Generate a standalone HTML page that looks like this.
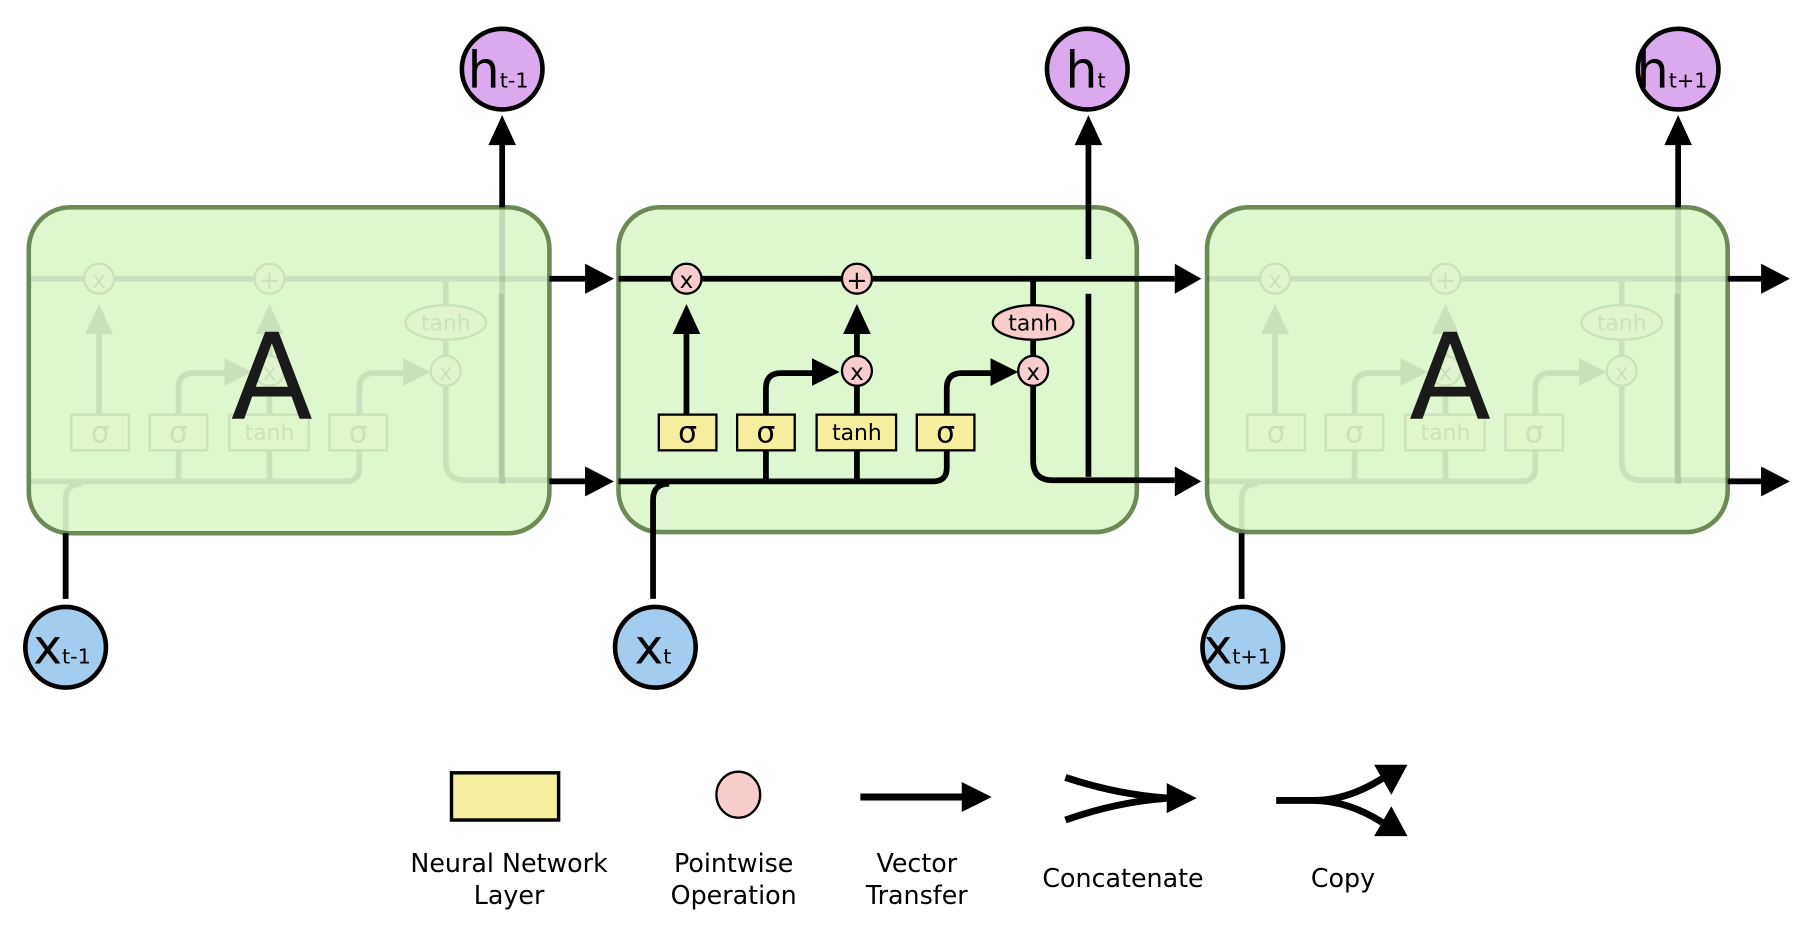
<!DOCTYPE html>
<html><head><meta charset="utf-8"><style>
html,body{margin:0;padding:0;background:#fff;}
svg{display:block;}
text{font-family:"DejaVu Sans","Liberation Sans",sans-serif;}
</style></head><body>
<svg width="1806" height="926" viewBox="0 0 1568 804" preserveAspectRatio="none" xmlns="http://www.w3.org/2000/svg">
<defs>
<g id="cell" fill="none" stroke="#000" stroke-width="5">
  <path d="M537 242 H1020"/>
  <polygon points="1020,229 1043,242 1020,255" fill="#000" stroke="none"/>
  <path d="M537 418 H810 Q822 418 822 406 V391"/>
  <path d="M567 520 V434 Q567 420 581 420"/>
  <path d="M596 360 V290"/>
  <polygon points="584,290 596,264 608,290" fill="#000" stroke="none"/>
  <path d="M665 418 V391 M665 360 V337 Q665 324 678 324 H705"/>
  <polygon points="705,311 729,323 705,335" fill="#000" stroke="none"/>
  <path d="M744 418 V391 M744 360 V335 M744 309 V290"/>
  <polygon points="732,290 744,264 756,290" fill="#000" stroke="none"/>
  <path d="M822 360 V337 Q822 324 835 324 H860"/>
  <polygon points="860,311 884,323 860,335" fill="#000" stroke="none"/>
  <path d="M897 242 V265 M897 295 V309 M897 335 V400 Q897 417 914 417 H1020"/>
  <polygon points="1020,405 1043,418 1020,431" fill="#000" stroke="none"/>
  <path d="M945 255 V414"/>
  <g stroke-width="2">
    <circle cx="596" cy="242" r="13" fill="#f8cdcc"/>
    <circle cx="744" cy="242" r="13" fill="#f8cdcc"/>
    <circle cx="744" cy="322" r="13" fill="#f8cdcc"/>
    <circle cx="897" cy="322" r="13" fill="#f8cdcc"/>
    <ellipse cx="897" cy="280" rx="35" ry="15" fill="#f8cdcc"/>
    <rect x="572" y="360" width="50" height="31" fill="#f5ee9e"/>
    <rect x="640" y="360" width="50" height="31" fill="#f5ee9e"/>
    <rect x="709" y="360" width="69" height="31" fill="#f5ee9e"/>
    <rect x="796" y="360" width="50" height="31" fill="#f5ee9e"/>
  </g>
  <g fill="#000" stroke="none" text-anchor="middle">
    <text x="596" y="250" font-size="20">x</text>
    <text x="744" y="251" font-size="22">+</text>
    <text x="744" y="330" font-size="20">x</text>
    <text x="897" y="330" font-size="20">x</text>
    <text x="897" y="287" font-size="19">tanh</text>
    <text x="597" y="384" font-size="26">σ</text>
    <text x="665" y="384" font-size="26">σ</text>
    <text x="744" y="382" font-size="19">tanh</text>
    <text x="821" y="384" font-size="26">σ</text>
  </g>
</g>
</defs>

<rect x="25" y="180" width="452" height="283" rx="36" fill="#dff7cf" stroke="#6d8a56" stroke-width="4"/>
<rect x="537" y="180" width="450" height="282" rx="36" fill="#dff7cf" stroke="#6d8a56" stroke-width="4"/>
<rect x="1048" y="180" width="452" height="282" rx="36" fill="#dff7cf" stroke="#6d8a56" stroke-width="4"/>

<g opacity="0.09">
  <use href="#cell" transform="translate(-510 0)"/>
  <use href="#cell" transform="translate(511 0)"/>
</g>
<g opacity="0.12" stroke="#000" stroke-width="5">
  <path d="M436 180 V420"/>
  <path d="M1457 180 V420"/>
</g>

<text x="236" y="364" font-size="104" text-anchor="middle" fill="#1a1a1a">A</text>
<text x="1259" y="364" font-size="104" text-anchor="middle" fill="#1a1a1a">A</text>

<use href="#cell"/>
<g stroke="#000" stroke-width="5" fill="none">
  <path d="M945 225 V124"/>
  <path d="M436 180 V124"/>
  <path d="M1457 180 V124"/>
  <path d="M57 520 V463"/>
  <path d="M1078 520 V463"/>
  <path d="M477 242 H510 M477 418 H510"/>
  <path d="M1500 242 H1530 M1500 418 H1530"/>
</g>
<g fill="#000">
  <polygon points="933,126 945,100 957,126"/>
  <polygon points="424,126 436,100 448,126"/>
  <polygon points="1445,126 1457,100 1469,126"/>
  <polygon points="508,229 533,242 508,255"/>
  <polygon points="508,405 533,418 508,431"/>
  <polygon points="1529,229 1554,242 1529,255"/>
  <polygon points="1529,405 1554,418 1529,431"/>
</g>

<g stroke="#000" stroke-width="4">
  <circle cx="436" cy="60" r="35" fill="#dba9ee"/>
  <circle cx="944" cy="60" r="35" fill="#dba9ee"/>
  <circle cx="1457" cy="60" r="35" fill="#dba9ee"/>
  <circle cx="57" cy="562" r="35" fill="#a3cdef"/>
  <circle cx="569" cy="562" r="35" fill="#a3cdef"/>
  <circle cx="1079" cy="562" r="35" fill="#a3cdef"/>
</g>
<g fill="#000">
  <text x="406" y="76" font-size="44">h<tspan font-size="18">t-1</tspan></text>
  <text x="925" y="76" font-size="44">h<tspan font-size="18">t</tspan></text>
  <text x="1421" y="76" font-size="44">h<tspan font-size="18">t+1</tspan></text>
  <text x="29" y="576" font-size="42">x<tspan font-size="18">t-1</tspan></text>
  <text x="551" y="576" font-size="42">x<tspan font-size="18">t</tspan></text>
  <text x="1045" y="576" font-size="42">x<tspan font-size="18">t+1</tspan></text>
</g>

<rect x="392" y="671" width="93" height="41" fill="#f5ee9e" stroke="#000" stroke-width="3"/>
<ellipse cx="641" cy="690" rx="19" ry="20" fill="#f8cdcc" stroke="#000" stroke-width="2"/>
<g stroke="#000" stroke-width="6" fill="none">
  <path d="M747 692 H838"/>
  <path d="M925 675 Q970 690 1015 693 M925 712 Q970 696 1015 693"/>
  <path d="M1108 695 H1140 Q1170 695 1200 676 M1140 695 Q1170 695 1200 714"/>
</g>
<g fill="#000">
  <polygon points="835,679 861,692 835,705"/>
  <polygon points="1013,680 1039,693 1013,706"/>
  <polygon points="1193,664 1222,664 1208,690"/>
  <polygon points="1193,726 1222,726 1208,700"/>
</g>
<g fill="#000" font-size="22" text-anchor="middle">
  <text x="442" y="757">Neural Network</text>
  <text x="442" y="785">Layer</text>
  <text x="637" y="757">Pointwise</text>
  <text x="637" y="785">Operation</text>
  <text x="796" y="757">Vector</text>
  <text x="796" y="785">Transfer</text>
  <text x="975" y="770">Concatenate</text>
  <text x="1166" y="770">Copy</text>
</g>
</svg>
</body></html>
